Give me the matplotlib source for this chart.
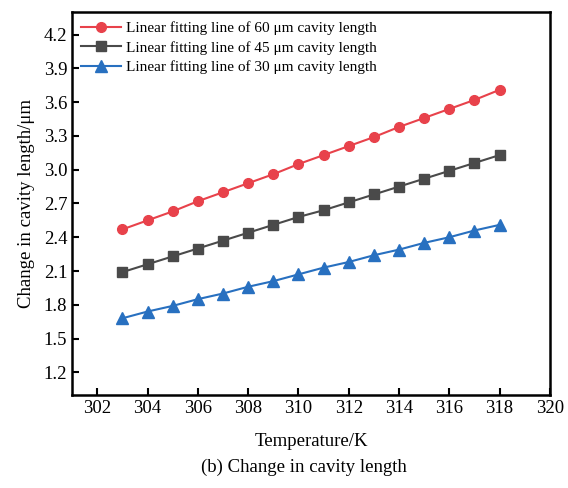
import matplotlib
matplotlib.use("Agg")
import matplotlib.pyplot as plt

plt.rcParams['font.family'] = ['Liberation Serif', 'DejaVu Serif']

# temperature (K)
temp = [303, 304, 305, 306, 307, 308, 309, 310, 311, 312, 313, 314, 315, 316, 317, 318]

# change in cavity length (um)
len60 = [2.47, 2.55, 2.63, 2.72, 2.80, 2.88, 2.96, 3.05, 3.13, 3.21, 3.29, 3.38, 3.46, 3.54, 3.62, 3.71]
len45 = [2.09, 2.16, 2.23, 2.30, 2.37, 2.44, 2.51, 2.58, 2.64, 2.71, 2.78, 2.85, 2.92, 2.99, 3.06, 3.13]
len30 = [1.68, 1.74, 1.79, 1.85, 1.90, 1.96, 2.01, 2.07, 2.13, 2.18, 2.24, 2.29, 2.35, 2.40, 2.46, 2.51]

xticks = [302, 304, 306, 308, 310, 312, 314, 316, 318, 320]
yticks = [1.2, 1.5, 1.8, 2.1, 2.4, 2.7, 3.0, 3.3, 3.6, 3.9, 4.2]

fig = plt.figure(figsize=(5.68, 4.88), dpi=100)
ax = fig.add_axes([0.127, 0.191, 0.841, 0.784])

ax.plot(temp, len60, '-o', color='#e8424b', lw=1.5, ms=7, label='Linear fitting line of 60 μm cavity length')
ax.plot(temp, len45, '-s', color='#4a4a4a', lw=1.5, ms=6.5, label='Linear fitting line of 45 μm cavity length')
ax.plot(temp, len30, '-^', color='#2870c0', lw=1.5, ms=8, label='Linear fitting line of 30 μm cavity length')

ax.set_xlim(301, 320)
ax.set_ylim(1.0, 4.4)
ax.set_xticks(xticks)
ax.set_yticks(yticks)
ax.set_yticklabels(['%.1f' % v for v in yticks])
ax.tick_params(direction='in', length=5, width=1.5, labelsize=13.5, top=False, right=False)
for s in ax.spines.values():
    s.set_linewidth(1.8)

ax.set_xlabel('Temperature/K', fontsize=13.5, labelpad=12)
ax.set_ylabel('Change in cavity length/μm', fontsize=13.5, labelpad=6)

ax.legend(loc='upper left', frameon=False, fontsize=11, handlelength=2.6,
          borderaxespad=0.1, borderpad=0.5, labelspacing=0.38, handletextpad=0.35)

fig.text(0.535, 0.043, '(b) Change in cavity length', ha='center', va='center', fontsize=13.5)

fig.savefig('out.png', dpi=100)
